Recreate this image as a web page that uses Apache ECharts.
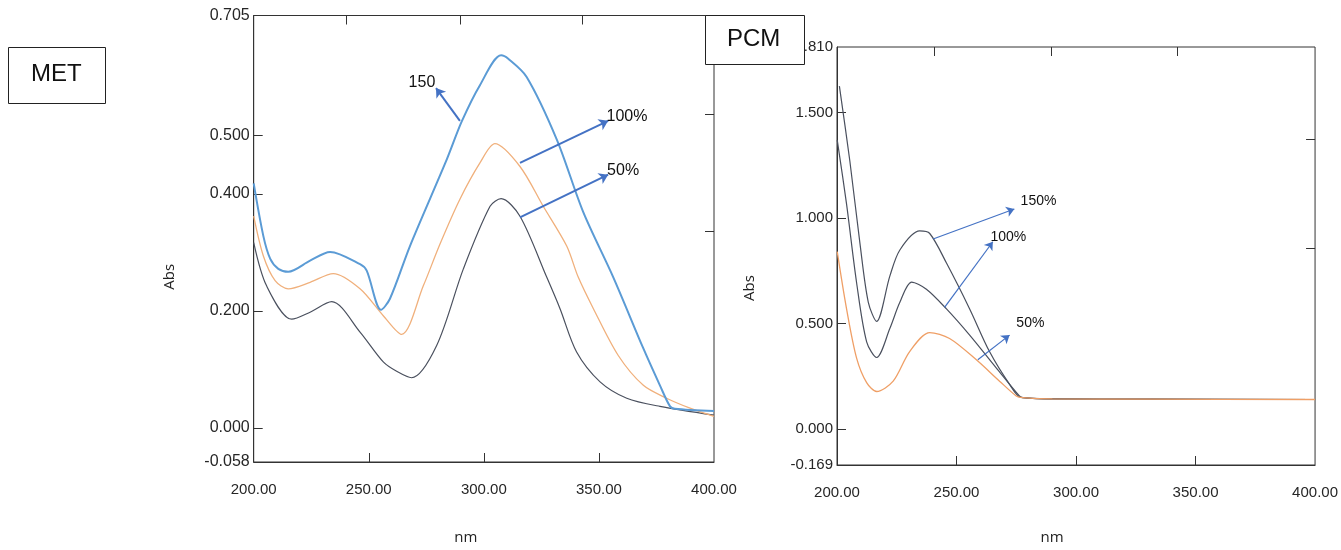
<!DOCTYPE html>
<html><head><meta charset="utf-8">
<script src="https://cdn.jsdelivr.net/npm/echarts@6/dist/echarts.min.js"></script>
<style>html,body{margin:0;padding:0;background:#fff}#c{width:1341px;height:550px}</style>
</head><body><div id="c"></div>
<script>
// ---------- MET panel (x: nm, y: Abs) ----------
const met150 = [[200,0.418],[204.2,0.328],[207.2,0.289],[210.7,0.272],[215,0.267],[224.5,0.286],[233.2,0.301],[246.2,0.280],[249.1,0.269],[255.3,0.202],[259.2,0.221],[267.9,0.311],[283.9,0.459],[290.4,0.524],[298.3,0.586],[307.5,0.637],[310.6,0.631],[318.6,0.600],[331.7,0.493],[343.2,0.369],[356.2,0.258],[369.3,0.136],[376.5,0.073],[380.9,0.037],[383,0.033],[400,0.029]];
const met100 = [[200,0.362],[204.2,0.294],[209.3,0.252],[215,0.238],[224.5,0.249],[234.6,0.264],[246.2,0.238],[256.3,0.192],[264.3,0.160],[273.7,0.243],[280.9,0.314],[289.6,0.391],[298.3,0.453],[304.8,0.486],[315.7,0.447],[325.8,0.379],[336,0.311],[341,0.258],[347.6,0.204],[358.4,0.124],[369.3,0.073],[379.4,0.051],[389.6,0.034],[400,0.020]];
const met50 = [[200,0.317],[205.6,0.243],[216.5,0.186],[224.5,0.198],[233.9,0.216],[246.2,0.164],[256.3,0.113],[262.1,0.097],[268.6,0.086],[279.5,0.141],[291.1,0.272],[302.7,0.379],[307.5,0.392],[315.7,0.362],[327.3,0.258],[333.1,0.204],[340.3,0.130],[350.5,0.079],[362.1,0.051],[376.5,0.037],[400,0.022]];
const metYLabels = [-0.058, 0, 0.2, 0.4, 0.5, 0.705];
const metYTicks = [0, 0.2, 0.4, 0.5];
const metTopTicks = [240.2, 289.7, 342.6];
const metRightTicks = [0.537, 0.336];
const metArrows = [
  {from:[289.6,0.525], to:[279.2,0.581], text:'150', at:[273.1,0.591]},
  {from:[315.7,0.453], to:[354.0,0.525], text:'100%', at:[362.2,0.533]},
  {from:[315.7,0.360], to:[354.0,0.433], text:'50%', at:[360.5,0.440]}
];

// ---------- PCM panel ----------
const pcm150 = [[201,1.625],[205.4,1.268],[209.6,0.880],[213.1,0.601],[216.6,0.511],[222.1,0.725],[226.3,0.849],[234.6,0.939],[238.8,0.927],[245.8,0.787],[255.5,0.570],[263.8,0.368],[272.2,0.213],[277,0.151],[290.1,0.144],[330.6,0.143],[400,0.141]];
const pcm100 = [[200.1,1.369],[204,1.066],[208.2,0.694],[212.4,0.414],[216.6,0.340],[222.1,0.477],[226.3,0.601],[231.2,0.697],[237.4,0.663],[245.8,0.570],[255.5,0.446],[266.6,0.291],[276.3,0.158],[277.6,0.150],[290.1,0.144],[330.6,0.143],[400,0.141]];
const pcm50 = [[200.1,0.841],[204,0.570],[208.2,0.337],[212.4,0.221],[216.6,0.179],[223.5,0.228],[230.4,0.368],[238.8,0.458],[247.1,0.430],[258.3,0.329],[268,0.228],[275,0.158],[277.6,0.150],[290.1,0.144],[330.6,0.143],[400,0.141]];
const pcmYLabels = [-0.169, 0, 0.5, 1.0, 1.5, 1.81];
const pcmYTicks = [0, 0.5, 1.0, 1.5];
const pcmTopTicks = [240.5, 289.7, 342.2];
const pcmRightTicks = [1.374, 0.855];
const pcmArrows = [
  {from:[240.2,0.901], to:[274.2,1.043], text:'150%', at:[284.3,1.079]},
  {from:[245.0,0.577], to:[265.2,0.888], text:'100%', at:[271.7,0.911]},
  {from:[258.9,0.329], to:[272.2,0.446], text:'50%', at:[280.9,0.502]}
];

const xLabels = [200, 250, 300, 350, 400];
const xTicks = [250, 300, 350];

const AX = '#333333', TXT = '#262626', ARROW = '#4472c4';
const tickFont = 'Liberation Sans, Arial, sans-serif';

function bottomX(grid, nameGap, pad, fs) {
  return {type:'value', gridIndex:grid, position:'bottom', min:200, max:400,
    axisLine:{show:true, onZero:false, lineStyle:{color:AX, width:1}},
    axisTick:{show:true, inside:true, length:9, customValues:xTicks, lineStyle:{color:AX}},
    axisLabel:{customValues:xLabels, formatter:v=>v.toFixed(2), color:TXT, fontSize:fs, fontFamily:tickFont, margin:20},
    splitLine:{show:false},
    name:'nm', nameLocation:'middle', nameGap:nameGap,
    nameTextStyle:{fontSize:15, color:'#222', fontFamily:'Open Sans, sans-serif', padding:pad}};
}
function topX(grid, ticks) {
  return {type:'value', gridIndex:grid, position:'top', min:200, max:400,
    axisLine:{show:false, onZero:false}, axisLabel:{show:false}, splitLine:{show:false},
    axisTick:{show:true, inside:true, length:9, customValues:ticks, lineStyle:{color:AX}}};
}
function leftY(grid, mn, mx, labels, ticks, nameGap, pad, fs) {
  return {type:'value', gridIndex:grid, position:'left', min:mn, max:mx,
    axisLine:{show:true, onZero:false, lineStyle:{color:AX, width:1}},
    axisTick:{show:true, inside:true, length:9, customValues:ticks, lineStyle:{color:AX}},
    axisLabel:{customValues:labels, formatter:v=>v.toFixed(3), color:TXT, fontSize:fs, fontFamily:tickFont, margin:4},
    splitLine:{show:false},
    name:'Abs', nameLocation:'middle', nameGap:nameGap, nameRotate:90,
    nameTextStyle:{fontSize:15, color:'#222', fontFamily:'Open Sans, sans-serif', padding:pad}};
}
function rightY(grid, mn, mx, ticks) {
  return {type:'value', gridIndex:grid, position:'right', min:mn, max:mx,
    axisLine:{show:false, onZero:false}, axisLabel:{show:false}, splitLine:{show:false},
    axisTick:{show:true, inside:true, length:9, customValues:ticks, lineStyle:{color:AX}}};
}
function arrowLines(arr, width, size) {
  return {silent:true, symbol:['none','arrow'], symbolSize:size, animation:false,
    label:{show:false}, lineStyle:{type:'solid', color:ARROW, width:width},
    itemStyle:{color:ARROW},
    data: arr.map(a => [{coord:a.from}, {coord:a.to}])};
}
function arrowTexts(arr, fs) {
  return {silent:true, symbol:'circle', symbolSize:1, animation:false,
    itemStyle:{color:'rgba(0,0,0,0)'},
    label:{show:true, position:'inside', formatter:'{b}', color:'#111', fontSize:fs, fontFamily:tickFont},
    data: arr.map(a => ({name:a.text, coord:a.at}))};
}
function line(xi, yi, data, color, width, z) {
  return {type:'line', xAxisIndex:xi, yAxisIndex:yi, data:data, showSymbol:false,
    smooth:0.3, z:z, lineStyle:{color:color, width:width}, itemStyle:{color:color}};
}

const s1 = line(0,0,met150,'#5b9bd5',2,4);
s1.markLine = arrowLines(metArrows, 2, 9);
s1.markPoint = arrowTexts(metArrows, 16);
const s4 = line(2,2,pcm150,'#4a505e',1.2,3);
s4.markLine = arrowLines(pcmArrows, 1.2, 8);
s4.markPoint = arrowTexts(pcmArrows, 14);

const option = {
  animation:false,
  backgroundColor:'#ffffff',
  grid:[
    {left:253.7, top:15.5, width:460.3, height:448.5, show:true, borderColor:AX, borderWidth:1, backgroundColor:'transparent'},
    {left:837, top:47, width:479.5, height:425, show:true, borderColor:AX, borderWidth:1, backgroundColor:'transparent'}
  ],
  xAxis:[ bottomX(0, 68, [0,36,0,0], 15), topX(0, metTopTicks), bottomX(1, 65, [0,48,0,0], 15), topX(1, pcmTopTicks) ],
  yAxis:[ leftY(0, -0.058, 0.705, metYLabels, metYTicks, 76, [0,76,0,0], 16), rightY(0, -0.058, 0.705, metRightTicks),
          leftY(1, -0.169, 1.81, pcmYLabels, pcmYTicks, 80, [0,64,0,0], 15), rightY(1, -0.169, 1.81, pcmRightTicks) ],
  series:[
    line(0,0,met50,'#4a505e',1.2,2),
    line(0,0,met100,'#f0b07c',1.3,3),
    s1,
    s4,
    line(2,2,pcm100,'#4a505e',1.2,3),
    line(2,2,pcm50,'#ef9f66',1.3,5)
  ],
  graphic:[
    {type:'rect', left:8, top:47, shape:{width:97, height:56}, style:{fill:'#fff', stroke:'#222', lineWidth:1}, z:100},
    {type:'text', left:31, top:62, style:{text:'MET', fontSize:24, fill:'#111', fontFamily:'Liberation Sans, Arial, sans-serif'}, z:101},
    {type:'rect', left:705, top:15, shape:{width:99, height:49}, style:{fill:'#fff', stroke:'#222', lineWidth:1}, z:100},
    {type:'text', left:727, top:27, style:{text:'PCM', fontSize:24, fill:'#111', fontFamily:'Liberation Sans, Arial, sans-serif'}, z:101}
  ]
};
const chart = echarts.init(document.getElementById('c'));
chart.setOption(option);
</script>
</body></html>
